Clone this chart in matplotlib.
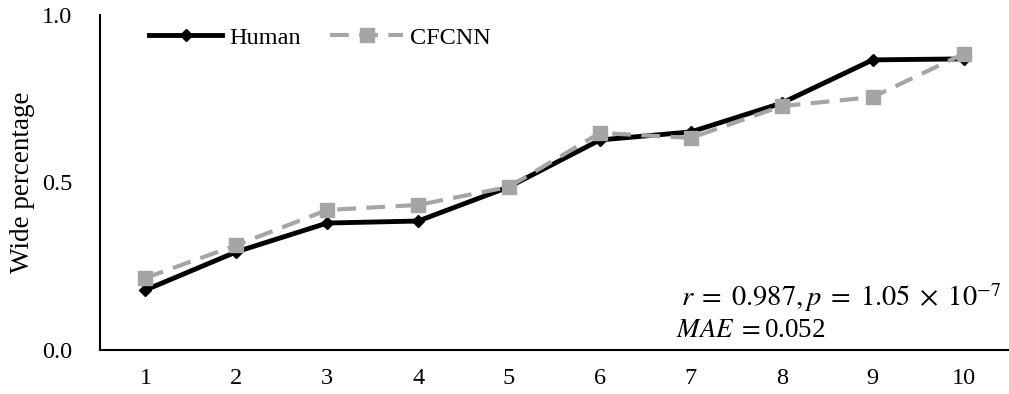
import matplotlib
matplotlib.use("Agg")
import matplotlib.pyplot as plt

plt.rcParams['font.family'] = ['Liberation Serif', 'DejaVu Serif']
plt.rcParams['mathtext.fontset'] = 'stix'

categories = [1, 2, 3, 4, 5, 6, 7, 8, 9, 10]
human = [0.179, 0.293, 0.379, 0.385, 0.487, 0.627, 0.651, 0.737, 0.866, 0.869]
cfcnn = [0.215, 0.313, 0.418, 0.433, 0.487, 0.648, 0.633, 0.728, 0.755, 0.884]
yticks = [0.0, 0.5, 1.0]

fig = plt.figure(figsize=(10.09, 3.94), dpi=100)
ax = fig.add_axes([100/1009, 1-350/394, 909/1009, 335/394])

ax.plot(categories, human, color='black', lw=3.5, marker='D', ms=6,
        label='Human', zorder=3)
ax.plot(categories, cfcnn, color='#A5A5A5', lw=3.0, ls=(0, (4.5, 2.5)),
        marker='s', ms=10, label='CFCNN', zorder=4)

ax.set_xlim(0.5, 10.5)
ax.set_ylim(0, 1)
ax.set_xticks(categories)
ax.set_xticklabels([str(c) for c in categories])
ax.set_yticks(yticks)
ax.set_yticklabels([f"{v:.1f}" for v in yticks])
ax.tick_params(length=0, labelsize=17.5, pad=13)
ax.tick_params(axis='y', pad=20)
for s in ['top', 'right']:
    ax.spines[s].set_visible(False)
for s in ['left', 'bottom']:
    ax.spines[s].set_linewidth(1.5)
ax.set_ylabel('Wide percentage', fontsize=19.5, labelpad=5)

ax.legend(loc='upper left', bbox_to_anchor=(0.03, 1.03), ncol=2, frameon=False,
          fontsize=17.5, handlelength=3.0, handletextpad=0.3, columnspacing=1.2)

ax.text(0.992, 0.158, r'$r\;=\;0.987, p\;=\;1.05\;\times\;10^{-7}$', transform=ax.transAxes,
        ha='right', va='center', fontsize=20.5)
ax.text(0.634, 0.057, r'$MAE\;=$0.052', transform=ax.transAxes,
        ha='left', va='center', fontsize=19.5)

fig.savefig('out.png', dpi=100)
